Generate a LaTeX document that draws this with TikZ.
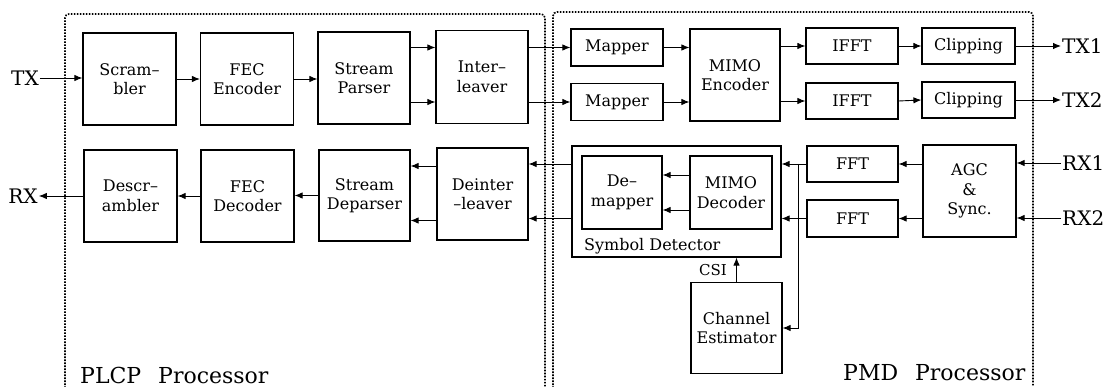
\documentclass[tikz,border=0pt]{standalone}
\usepackage{fontspec}
\setmainfont{DejaVu Serif}
\usetikzlibrary{arrows.meta,calc}
\begin{document}
\begin{tikzpicture}[x=1pt,y=-1pt,
  blk/.style={draw,line width=1.2pt,minimum width=#1,inner sep=0pt,align=center,
    font=\fontsize{16}{19.5}\selectfont},
  blk/.default=92pt,
  arr/.style={line width=0.9pt,-{Latex[length=8pt,width=6.5pt]}},
  proc/.style={line width=1.6pt,dash pattern=on 1.6pt off 1.4pt,rounded corners=4pt},
  io/.style={font=\fontsize{20}{22}\selectfont,inner sep=1pt},
  big/.style={font=\fontsize{22}{24}\selectfont,inner sep=0pt,anchor=base west},
]
\useasboundingbox (0,0) rectangle (1114,387);
% processor areas
\draw[proc] (65,400) -- (65,14) -- (545,14) -- (545,400);
\draw[proc] (553,400) -- (553,12) -- (1033,12) -- (1033,386);
\node[big] (plcp) at (80,383) {PLCP\hspace{10pt} Processor};
\node[big] (pmd) at (843,381) {PMD\hspace{10pt} Processor};
% transmit chain
\node[blk=93pt,minimum height=92pt] (scr) at (129.5,79) {Scram–\\bler};
\node[blk=93pt,minimum height=92pt] (fece) at (247,79) {FEC\\Encoder};
\node[blk=92pt,minimum height=92pt] (sp) at (364,78) {Stream\\Parser};
\node[blk=92pt,minimum height=93pt] (il) at (482,77) {Inter–\\leaver};
\node[blk=92pt,minimum height=37pt] (m1) at (617,47.5) {Mapper};
\node[blk=92pt,minimum height=37pt] (m2) at (617,102) {Mapper};
\node[blk=90pt,minimum height=92pt] (me) at (735,75) {MIMO\\Encoder};
\node[blk=92pt,minimum height=36pt] (i1) at (852,46) {IFFT};
\node[blk=92pt,minimum height=36pt] (i2) at (852,101) {IFFT};
\node[blk=93pt,minimum height=36pt] (c1) at (968.5,46) {Clipping};
\node[blk=93pt,minimum height=36pt] (c2) at (968.5,100) {Clipping};
\node[io] (tx) at (25,78) {TX};
\node[io,anchor=west] (tx1) at (1061,46) {TX1};
\node[io,anchor=west] (tx2) at (1061,100) {TX2};
% receive chain
\node[blk=93pt,minimum height=92pt] (dsc) at (130.5,196) {Descr–\\ambler};
\node[blk=93pt,minimum height=92pt] (fecd) at (247.5,196) {FEC\\Decoder};
\node[blk=91pt,minimum height=91pt] (sdp) at (364.5,195.5) {Stream\\Deparser};
\node[blk=91pt,minimum height=92pt] (di) at (482.5,194) {Deinter\\–leaver};
\node[draw,line width=1.2pt,minimum width=209pt,minimum height=111pt,inner sep=0pt] (sd) at (676.5,201.5) {};
\node[blk=80pt,minimum height=73pt] (dm) at (622,192.5) {De–\\mapper};
\node[blk=82pt,minimum height=73pt] (md) at (731,192.5) {MIMO\\Decoder};
\node[anchor=west,inner sep=0pt,font=\fontsize{16}{19.5}\selectfont] (sdl) at (584,246) {Symbol Detector};
\node[blk=91pt,minimum height=36pt] (f1) at (852.5,164) {FFT};
\node[blk=91pt,minimum height=37pt] (f2) at (852.5,218.5) {FFT};
\node[blk=93pt,minimum height=92pt] (agc) at (969.5,191) {AGC\\\&\\Sync.};
\node[blk=91pt,minimum height=91pt] (ce) at (736.5,328) {Channel\\Estimator};
\node[io] (rx) at (23,196) {RX};
\node[io,anchor=west] (rx1) at (1061,163) {RX1};
\node[io,anchor=west] (rx2) at (1061,218) {RX2};
% transmit connectors
\draw[arr] (tx.east) -- (scr.west |- tx);
\draw[arr] (scr.east) -- (fece.west);
\draw[arr] (fece.east) -- (sp.west |- fece);
\draw[arr] (sp.east |- m1) -- (il.west |- m1);
\draw[arr] (sp.east |- m2) -- (il.west |- m2);
\draw[arr] (il.east |- m1) -- (m1.west);
\draw[arr] (il.east |- m2) -- (m2.west);
\draw[arr] (m1.east) -- (me.west |- m1);
\draw[arr] (m2.east) -- (me.west |- m2);
\draw[arr] (me.east |- i1) -- (i1.west);
\draw[arr] (me.east |- i2) -- (i2.west);
\draw[arr] (i1.east) -- (c1.west);
\draw[arr] (i2.east) -- (c2.west);
\draw[arr] (c1.east) -- (tx1.west);
\draw[arr] (c2.east) -- (tx2.west);
% receive connectors
\draw[arr] (rx1.west) -- (agc.east |- rx1);
\draw[arr] (rx2.west) -- (agc.east |- rx2);
\draw[arr] (agc.west |- f1) -- (f1.east);
\draw[arr] (agc.west |- f2) -- (f2.east);
\draw[arr] (f1.west) -- (sd.east |- f1);
\draw[arr] (f2.west) -- (sd.east |- f2);
\coordinate (br) at ([xshift=17pt]sd.east |- f1);
\draw[arr] (br) |- (ce.east);
\draw[arr] (ce.north) -- (ce.north |- sd.south);
\node[anchor=east,inner sep=0pt,font=\fontsize{15}{17}\selectfont] (csi) at (727,270) {CSI};
\draw[arr] ($(md.west)+(0,-17.5)$) coordinate (p1) -- (dm.east |- p1);
\draw[arr] ($(md.west)+(0,17.5)$) coordinate (p2) -- (dm.east |- p2);
\draw[arr] (sd.west |- f1) -- (di.east |- f1);
\draw[arr] (sd.west |- f2) -- (di.east |- f2);
\draw[arr] ([yshift=-2pt]di.west |- f1) coordinate (q1) -- (sdp.east |- q1);
\draw[arr] ([yshift=-2pt]di.west |- f2) coordinate (q2) -- (sdp.east |- q2);
\draw[arr] (sdp.west) -- (fecd.east |- sdp);
\draw[arr] (fecd.west) -- (dsc.east |- fecd);
\draw[arr] (dsc.west) -- (rx.east |- dsc);
\end{tikzpicture}
\end{document}
